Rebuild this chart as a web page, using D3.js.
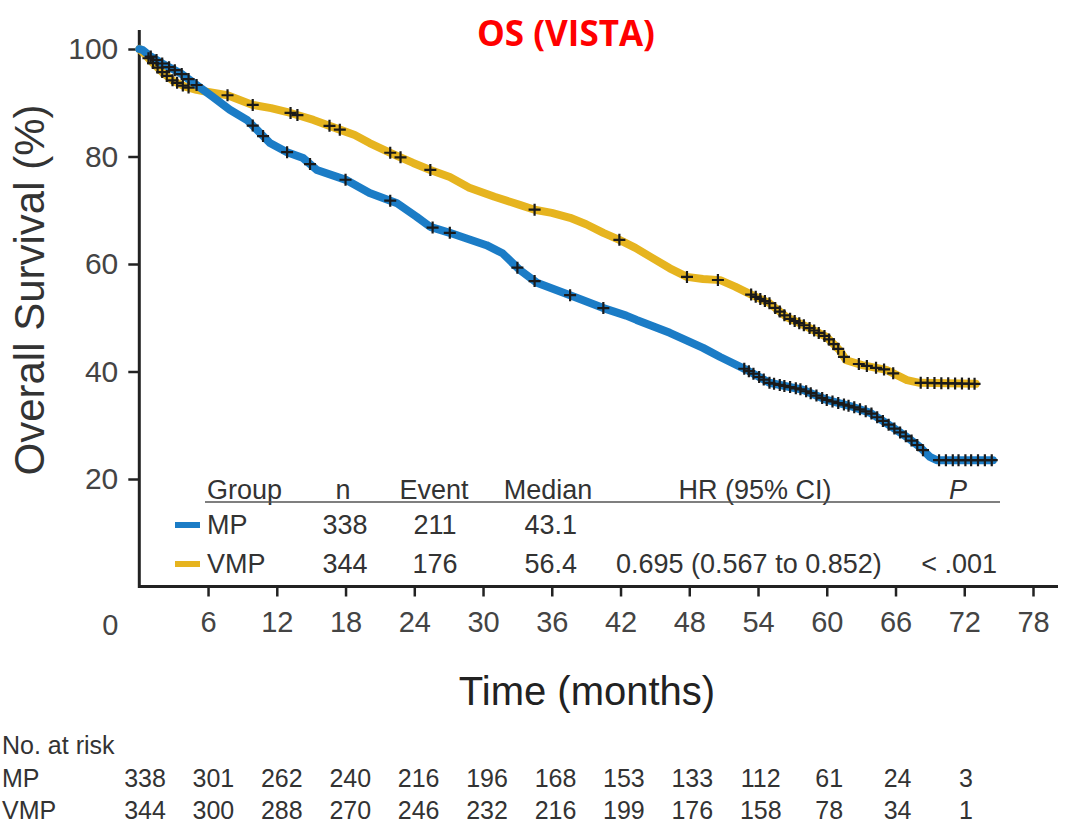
<!DOCTYPE html>
<html>
<head>
<meta charset="utf-8">
<script src="https://cdn.jsdelivr.net/npm/d3@7"></script>
<style>
  body { margin: 0; background: #fff; }
  svg { display: block; }
</style>
</head>
<body>
<div id="chartArea"></div>
<script>
// survival curves (months, % surviving)
var vmpTimes = [0, 0.5, 1, 2.1, 3, 4, 5.0, 6, 7.7, 9.9, 11.5, 13.2, 15.2, 17.5, 18.8, 20.1, 22.1, 23.9, 25.4, 27.1, 28.8, 31, 33.2, 34.5, 36, 37.6, 39, 40.5, 41.9, 43.3, 44.8, 46.3, 47.8, 49.2, 50.7, 52, 53.5, 55.0, 56.5, 58.3, 60.0, 61.1, 61.7, 63.1, 65.2, 67.0, 68.1, 73.0]
var vmpSurv = [100, 99, 97.8, 95.5, 94, 93, 92.4, 92, 91.4, 89.6, 89, 88.1, 86.8, 85, 84, 82.5, 80.5, 78.8, 77.5, 76.2, 74.2, 72.5, 71, 70.1, 69.5, 68.6, 67.4, 65.8, 64.5, 63, 61.1, 59.2, 57.6, 57.2, 57, 55.8, 54.2, 52.7, 50.1, 48.3, 46.4, 44, 42.1, 41.2, 40.3, 38.4, 37.9, 37.7]

var mpTimes = [0, 0.3, 1, 2, 3.6, 5, 6.4, 7.9, 9.4, 10.3, 11.4, 12.9, 14.3, 15.5, 18.1, 20.1, 22.5, 24.2, 25.4, 27.1, 28.5, 30.3, 31.7, 33.2, 34.7, 37.6, 40.5, 42.5, 43.4, 46.3, 49.2, 50.7, 53.0, 55.0, 57.9, 60.0, 62.3, 63.8, 65.2, 67.0, 68.1, 69.0, 69.6, 74.5]
var mpSurv = [100, 99.8, 98.6, 97.3, 95.5, 93.3, 91.1, 88.7, 86.8, 84.9, 82.5, 80.8, 79.7, 77.5, 75.6, 73.2, 71.3, 68.8, 66.9, 65.8, 64.8, 63.5, 62.0, 58.9, 56.5, 54.2, 51.8, 50.4, 49.6, 47.2, 44.4, 42.7, 40.3, 37.9, 36.6, 34.7, 33.4, 32.3, 30.4, 27.8, 26.0, 24.1, 23.5, 23.5]

// censor marks (months)
var vmpCensor = [0.8, 1.2, 1.6, 2.0, 2.4, 2.9, 3.3, 3.8, 4.3, 7.7, 9.9, 13.2, 13.8, 16.6, 17.5, 21.9, 22.8, 25.4, 34.5, 41.9, 47.8, 50.5,
  53.4, 53.8, 54.2, 54.6, 55.0, 55.5, 55.9, 56.3, 56.8, 57.2, 57.6, 58.0, 58.5, 58.9, 59.3, 59.8, 60.2, 60.6, 61.0, 61.5,
  62.8, 63.5, 64.3, 65.0, 65.8, 68.2, 68.8, 69.4, 70.0, 70.6, 71.2, 71.8, 72.4, 72.9]
var mpCensor = [1.0, 1.5, 2.0, 2.6, 3.1, 3.7, 4.3, 5.0, 9.9, 10.8, 12.9, 14.9, 18.0, 21.9, 25.6, 27.1, 33.0, 34.5, 37.6, 40.5,
  52.8, 53.2, 53.6, 54.1, 54.5, 55.0, 55.4, 55.9, 56.3, 56.8, 57.3, 57.7, 58.2, 58.6, 59.1, 59.6, 60.0, 60.5, 61.0, 61.5,
  61.9, 62.4, 62.9, 63.4, 63.9, 64.4, 64.9, 65.4, 65.9, 66.4, 66.9, 67.4, 67.9, 68.4,
  69.8, 70.4, 71.0, 71.5, 72.1, 72.6, 73.2, 73.8, 74.4]

var xTicks = [0, 6, 12, 18, 24, 30, 36, 42, 48, 54, 60, 66, 72, 78]
var yTicks = [20, 40, 60, 80, 100]

// summary table
var tableHeader = ["Group", "n", "Event", "Median", "HR (95% CI)", "P"]
var groups = ["MP", "VMP"]
var groupN = [338, 344]
var groupEvents = [211, 176]
var groupMedian = ["43.1", "56.4"]
var hrText = "0.695 (0.567 to 0.852)"
var pText = "< .001"

// number at risk
var riskTimes = [0, 6, 12, 18, 24, 30, 36, 42, 48, 54, 60, 66, 72]
var mpRisk = [338, 301, 262, 240, 216, 196, 168, 153, 133, 112, 61, 24, 3]
var vmpRisk = [344, 300, 288, 270, 246, 232, 216, 199, 176, 158, 78, 34, 1]

var blue = "#1b7cc6"
var gold = "#e6b41f"
var font = "'Liberation Sans', Arial, sans-serif"

var svg = d3.select('#chartArea')
  .append('svg')
  .attr('width', 1067)
  .attr('height', 827)
  .style('background', '#fff')

var x = d3.scaleLinear().domain([0, 78]).range([139.3, 1033])
var y = d3.scaleLinear().domain([0, 100]).range([586.5, 49])

// title
svg.append('text')
  .attr('x', 566).attr('y', 46)
  .attr('text-anchor', 'middle')
  .attr('font-family', "'Open Sans', sans-serif")
  .attr('font-weight', 'bold')
  .attr('font-size', 35)
  .attr('fill', '#ff0000')
  .text('OS (VISTA)')

// y axis
var yAxis = d3.axisLeft(y).tickValues(yTicks).tickSize(11).tickPadding(10)
var gy = svg.append('g').attr('transform', 'translate(139.3,0)').call(yAxis)
gy.select('.domain').remove()
gy.append('line').attr('x1', 0).attr('x2', 0).attr('y1', 30).attr('y2', 588)
  .attr('stroke', '#222').attr('stroke-width', 3)
gy.selectAll('.tick line').attr('stroke', '#222').attr('stroke-width', 2.5)
gy.selectAll('.tick text').attr('font-family', font).attr('font-size', 30).attr('fill', '#444')

// x axis
var xAxis = d3.axisBottom(x).tickValues(xTicks).tickSize(10).tickPadding(15)
  .tickFormat(function (d) { return d == 0 ? "" : d })
var gx = svg.append('g').attr('transform', 'translate(0,586.5)').call(xAxis)
gx.select('.domain').remove()
gx.append('line').attr('x1', 138).attr('x2', 1058).attr('y1', 0).attr('y2', 0)
  .attr('stroke', '#222').attr('stroke-width', 3)
gx.selectAll('.tick line').attr('stroke', '#222').attr('stroke-width', 2.5)
gx.selectAll('.tick').filter(function (d) { return d == 0 }).select('line').remove()
gx.selectAll('.tick text').attr('font-family', font).attr('font-size', 29).attr('fill', '#444')
gx.append('text')
  .attr('x', x(0) - 29).attr('y', 48)
  .attr('text-anchor', 'middle')
  .attr('font-family', font).attr('font-size', 29).attr('fill', '#444')
  .text('0')

// axis titles
svg.append('text')
  .attr('transform', 'translate(44,290) rotate(-90)')
  .attr('text-anchor', 'middle')
  .attr('font-family', font).attr('font-size', 42).attr('fill', '#333')
  .text('Overall Survival (%)')

svg.append('text')
  .attr('x', 587).attr('y', 705)
  .attr('text-anchor', 'middle')
  .attr('font-family', font).attr('font-size', 40).attr('fill', '#222')
  .text('Time (months)')

// curves
function pts(times, surv) {
  return times.map(function (t, i) { return [t, surv[i]] })
}
function survAt(times, surv, t) {
  for (var i = 1; i < times.length; i++) {
    if (t <= times[i]) {
      var f = (t - times[i - 1]) / (times[i] - times[i - 1])
      return surv[i - 1] + f * (surv[i] - surv[i - 1])
    }
  }
  return surv[surv.length - 1]
}

var line = d3.line()
  .x(function (d) { return x(d[0]) })
  .y(function (d) { return y(d[1]) })
  .curve(d3.curveLinear)

var curves = svg.append('g')
curves.append('path').datum(pts(vmpTimes, vmpSurv)).attr('d', line)
  .attr('fill', 'none').attr('stroke', gold).attr('stroke-width', 8)
  .attr('stroke-linejoin', 'round').attr('stroke-linecap', 'round')
curves.append('path').datum(pts(mpTimes, mpSurv)).attr('d', line)
  .attr('fill', 'none').attr('stroke', blue).attr('stroke-width', 8)
  .attr('stroke-linejoin', 'round').attr('stroke-linecap', 'round')

function drawCensor(times, surv, marks) {
  svg.append('g').selectAll('path')
    .data(marks)
    .enter()
    .append('path')
    .attr('d', 'M-6,0H6M0,-6V6')
    .attr('transform', function (t) { return 'translate(' + x(t) + ',' + y(survAt(times, surv, t)) + ')' })
    .attr('stroke', '#1a1a1a')
    .attr('stroke-width', 2.2)
    .attr('fill', 'none')
}
drawCensor(vmpTimes, vmpSurv, vmpCensor)
drawCensor(mpTimes, mpSurv, mpCensor)

// summary table
var tbl = svg.append('g')
  .attr('font-family', font).attr('font-size', 27).attr('fill', '#333')
var hx = [207, 343, 434, 548, 755, 958]
var hAnchor = ['start', 'middle', 'middle', 'middle', 'middle', 'middle']
tableHeader.forEach(function (h, i) {
  tbl.append('text')
    .attr('x', hx[i]).attr('y', 499)
    .attr('text-anchor', hAnchor[i])
    .attr('font-style', h == 'P' ? 'italic' : 'normal')
    .attr('fill', '#333')
    .text(h)
})
tbl.append('line').attr('x1', 205).attr('x2', 1000).attr('y1', 502).attr('y2', 502)
  .attr('stroke', '#555').attr('stroke-width', 1.5)

var rowY = [534, 573]
var rowCol = [blue, gold]
groups.forEach(function (g, i) {
  tbl.append('line').attr('x1', 175).attr('x2', 200).attr('y1', rowY[i] - 9).attr('y2', rowY[i] - 9)
    .attr('stroke', rowCol[i]).attr('stroke-width', 6)
  tbl.append('text').attr('x', 207).attr('y', rowY[i]).text(g)
  tbl.append('text').attr('x', 345).attr('y', rowY[i]).attr('text-anchor', 'middle').text(groupN[i])
  tbl.append('text').attr('x', 435).attr('y', rowY[i]).attr('text-anchor', 'middle').text(groupEvents[i])
  tbl.append('text').attr('x', 577).attr('y', rowY[i]).attr('text-anchor', 'end').text(groupMedian[i])
})
tbl.append('text').attr('x', 616).attr('y', rowY[1]).text(hrText)
tbl.append('text').attr('x', 997).attr('y', rowY[1]).attr('text-anchor', 'end').text(pText)

// number at risk
var xr = d3.scaleLinear().domain([0, 72]).range([145, 966])
var risk = svg.append('g')
  .attr('font-family', font).attr('font-size', 25).attr('fill', '#333')
risk.append('text').attr('x', 2).attr('y', 754).text('No. at risk')
risk.append('text').attr('x', 2).attr('y', 787).text('MP')
risk.append('text').attr('x', 2).attr('y', 819).text('VMP')
risk.selectAll('.mp').data(mpRisk).enter().append('text')
  .attr('x', function (d, i) { return xr(riskTimes[i]) })
  .attr('y', 787).attr('text-anchor', 'middle').text(function (d) { return d })
risk.selectAll('.vmp').data(vmpRisk).enter().append('text')
  .attr('x', function (d, i) { return xr(riskTimes[i]) })
  .attr('y', 819).attr('text-anchor', 'middle').text(function (d) { return d })
</script>
</body>
</html>
